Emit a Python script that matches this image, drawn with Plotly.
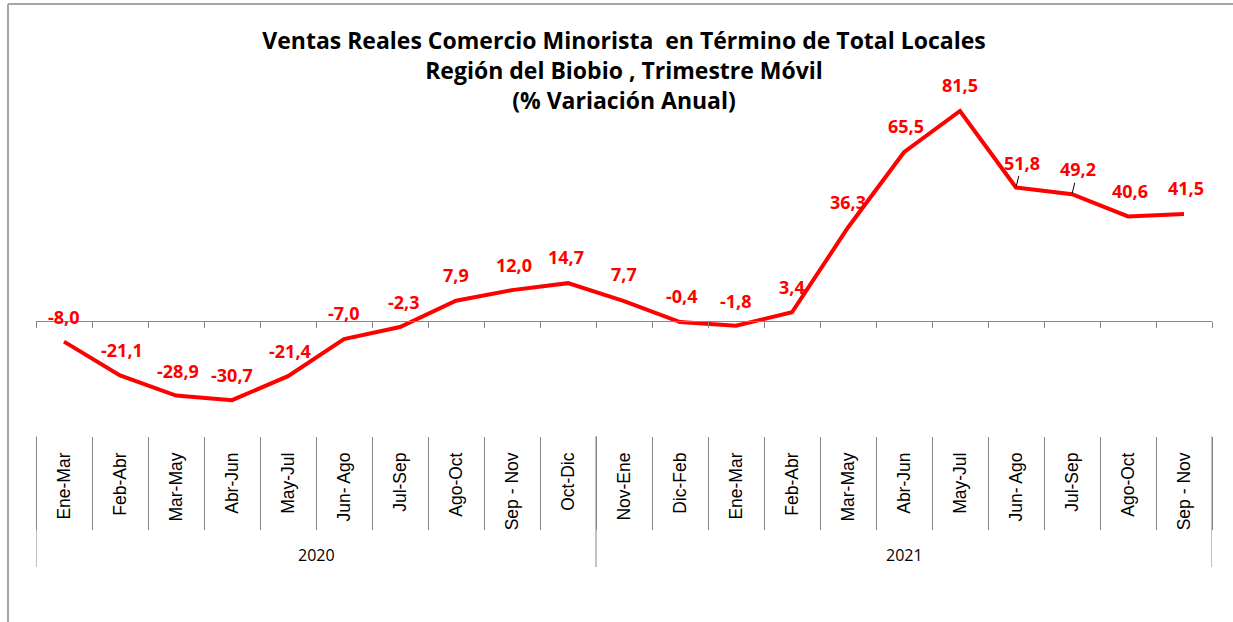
import plotly.graph_objects as go

periodos = [
    "Ene-Mar", "Feb-Abr", "Mar-May", "Abr-Jun", "May-Jul", "Jun- Ago", "Jul-Sep",
    "Ago-Oct", "Sep - Nov", "Oct-Dic", "Nov-Ene", "Dic-Feb", "Ene-Mar", "Feb-Abr",
    "Mar-May", "Abr-Jun", "May-Jul", "Jun- Ago", "Jul-Sep", "Ago-Oct", "Sep - Nov"
]
anios = ["2020", "2021"]
periodos_por_anio = [10, 11]
variacion = [
    -8.0, -21.1, -28.9, -30.7, -21.4, -7.0, -2.3, 7.9, 12.0, 14.7,
    7.7, -0.4, -1.8, 3.4, 36.3, 65.5, 81.5, 51.8, 49.2, 40.6, 41.5
]

# ajustes de las etiquetas (px)
etiqueta_dx = [0, 2, 2, 0, 2, 0, 4, 0, 2, -2, 0, 2, 0, 0, 0, 2, 0, 6, 6, 2, 2]
etiqueta_dy = [25, 25, 25, 25, 25, 26, 25, 26, 25, 26, 27, 26, 25, 25, 25, 26, 26, 25, 25, 25, 26]
con_guia = [False] * 17 + [True, True] + [False, False]

ANCHO, ALTO = 1233, 622
M_IZQ, M_DER, M_SUP, M_INF = 36, 21, 62, 186
Y_MIN, Y_MAX = -44.6, 100.5

ROJO = "#FF0000"
GRIS = "#868686"
FUENTE = "Open Sans"
FUENTE_EJE = "Liberation Sans"

n = len(periodos)
bordes = [i - 0.5 for i in range(n + 1)]
alto_plot = ALTO - M_SUP - M_INF
ancho_plot = ANCHO - M_IZQ - M_DER


def px_x(p):
    return (p - M_IZQ) / ancho_plot


def px_y(p):
    return (ALTO - M_INF - p) / alto_plot


fig = go.Figure()

fig.add_trace(
    go.Scatter(
        x=list(range(n)),
        y=variacion,
        mode="lines",
        line=dict(color=ROJO, width=4),
        showlegend=False,
        hoverinfo="skip"
    )
)

# eje auxiliar para la línea del cero con marcas
fig.add_trace(
    go.Scatter(x=[], y=[], xaxis="x2", showlegend=False, hoverinfo="skip")
)

for i, v in enumerate(variacion):
    texto = f"{v:.1f}".replace(".", ",")
    if con_guia[i]:
        fig.add_annotation(
            x=i, y=v, text=f"<b>{texto}</b>",
            showarrow=True, arrowhead=0, arrowwidth=1, arrowcolor="black",
            ax=etiqueta_dx[i], ay=-etiqueta_dy[i], standoff=1,
            font=dict(family=FUENTE, size=18, color=ROJO)
        )
    else:
        fig.add_annotation(
            x=i, y=v, text=f"<b>{texto}</b>",
            showarrow=False,
            xshift=etiqueta_dx[i], yshift=etiqueta_dy[i],
            font=dict(family=FUENTE, size=18, color=ROJO)
        )

# separadores de años y etiquetas de año
inicio = 0
lineas_anio = [bordes[0]]
for anio, cuenta in zip(anios, periodos_por_anio):
    fin = inicio + cuenta
    fig.add_annotation(
        x=(inicio + fin - 1) / 2, y=px_y(555), yref="paper",
        yanchor="middle",
        text=anio, showarrow=False,
        font=dict(family=FUENTE, size=16, color="black")
    )
    lineas_anio.append(bordes[fin])
    inicio = fin

for xb in lineas_anio:
    fig.add_shape(
        type="line", xref="x", yref="paper",
        x0=xb, x1=xb, y0=0, y1=px_y(567),
        line=dict(color=GRIS, width=1)
    )

# marco del gráfico
fig.add_shape(
    type="line", xref="paper", yref="paper",
    x0=px_x(8), x1=px_x(ANCHO + 5), y0=px_y(4), y1=px_y(4),
    line=dict(color="#A6A6A6", width=2)
)
fig.add_shape(
    type="line", xref="paper", yref="paper",
    x0=px_x(8), x1=px_x(8), y0=px_y(4), y1=px_y(ALTO + 5),
    line=dict(color="#A6A6A6", width=2)
)

fig.update_layout(
    width=ANCHO,
    height=ALTO,
    margin=dict(l=M_IZQ, r=M_DER, t=M_SUP, b=M_INF, autoexpand=False),
    paper_bgcolor="white",
    plot_bgcolor="white",
    font=dict(family=FUENTE, color="black"),
    title=dict(
        text="<b>Ventas Reales Comercio Minorista  en Término de Total Locales<br>"
             "Región del Biobio , Trimestre Móvil<br>(% Variación Anual)</b>",
        x=0.5,
        xanchor="center",
        xref="paper",
        y=1 - 49 / ALTO,
        yanchor="top",
        font=dict(family=FUENTE, size=23, color="black")
    ),
    xaxis=dict(
        range=[bordes[0], bordes[-1]],
        tickmode="array",
        tickvals=list(range(n)),
        ticktext=periodos,
        tickangle=-90,
        ticks="",
        ticklabelstandoff=12,
        showgrid=False,
        zeroline=False,
        showline=False,
        tickfont=dict(family=FUENTE_EJE, size=17.5, color="black"),
        minor=dict(
            tickmode="array",
            tickvals=bordes,
            ticks="outside",
            ticklen=93,
            tickwidth=1,
            tickcolor=GRIS,
            showgrid=False
        )
    ),
    xaxis2=dict(
        overlaying="x",
        anchor="free",
        position=(0 - Y_MIN) / (Y_MAX - Y_MIN),
        range=[bordes[0], bordes[-1]],
        tickmode="array",
        tickvals=bordes,
        ticks="outside",
        ticklen=6,
        tickwidth=1,
        tickcolor=GRIS,
        showticklabels=False,
        showline=True,
        linecolor=GRIS,
        linewidth=1,
        showgrid=False,
        zeroline=False
    ),
    yaxis=dict(
        range=[Y_MIN, Y_MAX],
        visible=False,
        showgrid=False,
        zeroline=False
    )
)

fig.write_html(
    "out.html",
    config={"displayModeBar": False},
    post_script="document.body.style.margin = '0';"
)
